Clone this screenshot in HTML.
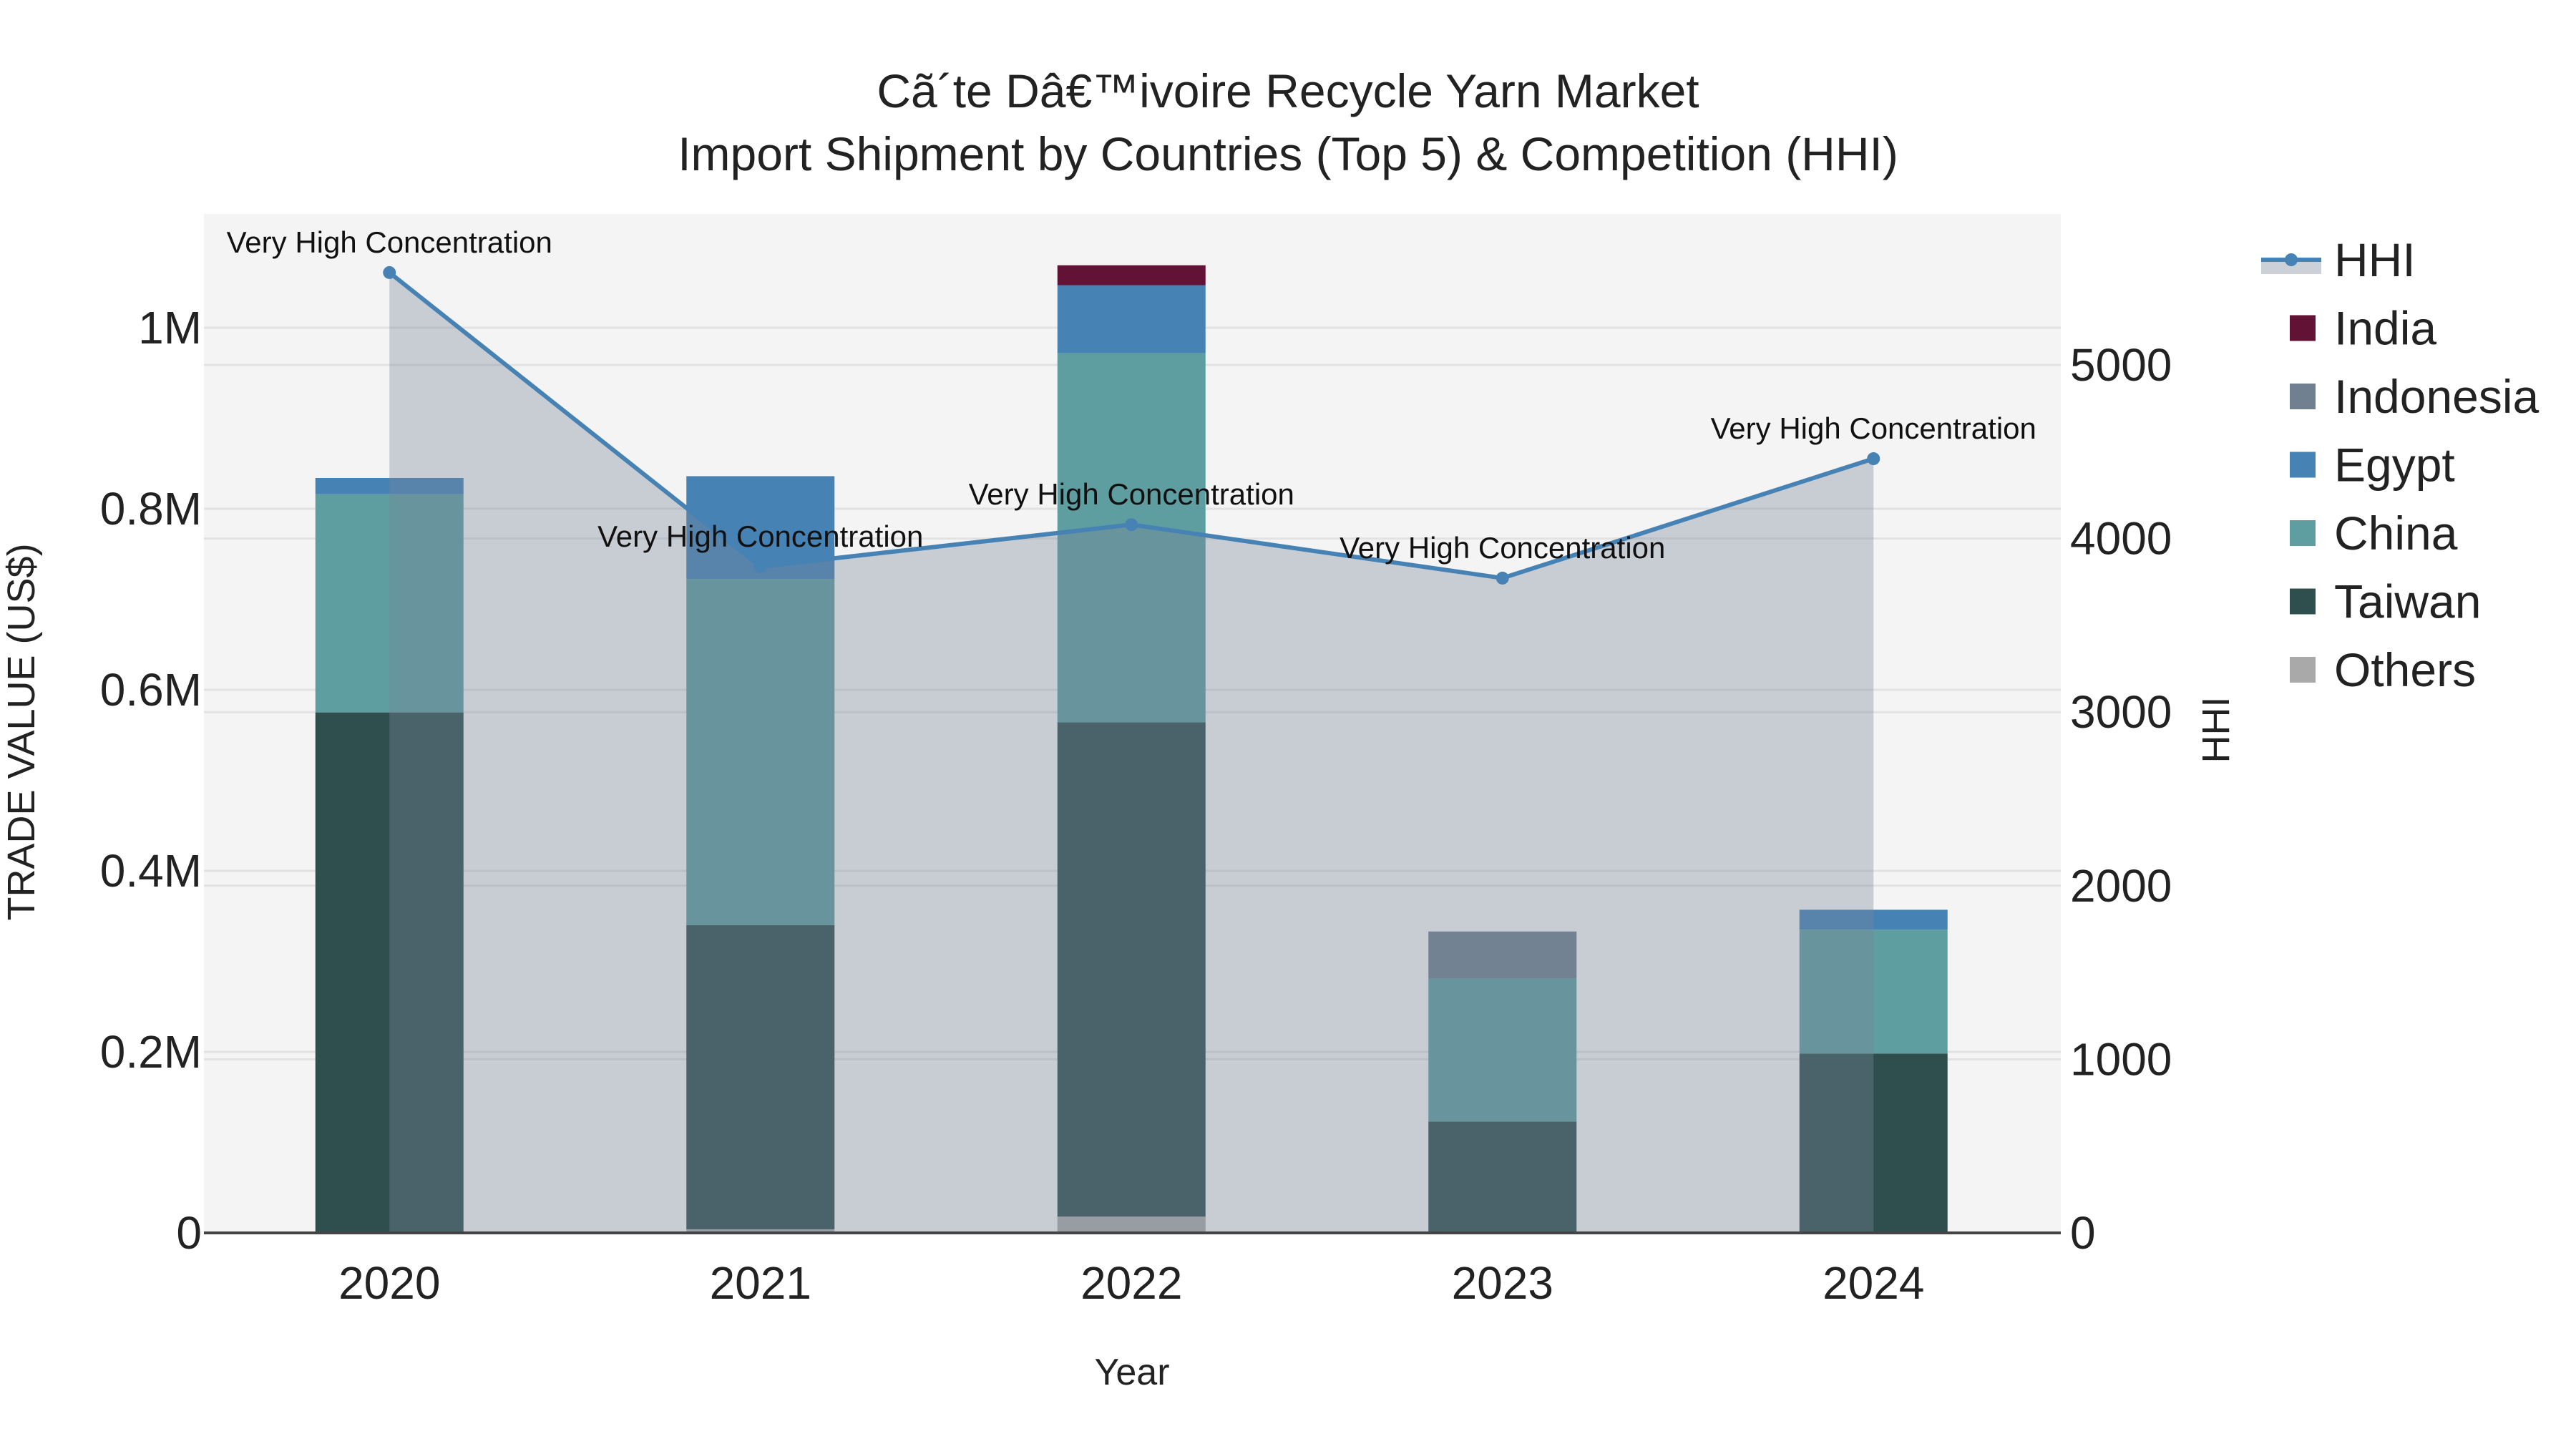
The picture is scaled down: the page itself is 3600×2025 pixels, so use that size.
<!DOCTYPE html>
<html><head><meta charset="utf-8"><style>
html,body{margin:0;padding:0;background:#fff;}
svg{display:block;font-family:"Liberation Sans",sans-serif;}
</style></head><body>
<svg id="chart" width="3600" height="2025" viewBox="0 0 3600 2025" xmlns="http://www.w3.org/2000/svg">
<rect x="285" y="299" width="2595" height="1424" fill="#f4f4f4"/>
<g id="grid"></g>
<g id="bars"></g>
<g id="hhi"></g>
<g id="axes"></g>
<text x="1800" y="150" font-size="66" text-anchor="middle" fill="#222">Cã´te Dâ€™ivoire Recycle Yarn Market</text>
<text x="1800" y="238" font-size="66" text-anchor="middle" fill="#222">Import Shipment by Countries (Top 5) &amp; Competition (HHI)</text>
<text x="1582" y="1935" font-size="52" text-anchor="middle" fill="#222">Year</text>
<text transform="translate(48,1023) rotate(-90)" font-size="54" text-anchor="middle" fill="#222">TRADE VALUE (US$)</text>
<text transform="translate(3115,1020) rotate(-90)" font-size="54" text-anchor="middle" fill="#222">HHI</text>
<g id="legend"></g>
</svg>
<script>
const years = ["2020","2021","2022","2023","2024"];
const seriesNames = ["Others","Taiwan","China","Egypt","Indonesia","India"];
const others = [0, 0.004, 0.018, 0, 0];
const taiwan = [0.575, 0.336, 0.546, 0.123, 0.198];
const china = [0.241, 0.3825, 0.408, 0.158, 0.137];
const egypt = [0.018, 0.1135, 0.075, 0, 0.022];
const indonesia = [0, 0, 0, 0.052, 0];
const india = [0, 0, 0.022, 0, 0];
const hhi = [5532, 3838, 4080, 3772, 4460];
const hhiLabels = ["Very High Concentration","Very High Concentration","Very High Concentration","Very High Concentration","Very High Concentration"];
const leftTicks = [0,0.2,0.4,0.6,0.8,1.0];
const leftTickLabels = ["0","0.2M","0.4M","0.6M","0.8M","1M"];
const rightTicks = [0,1000,2000,3000,4000,5000];
const colors = {Others:"#a9a9a9",Taiwan:"#2f4f4f",China:"#5f9ea0",Egypt:"#4682b4",Indonesia:"#708090",India:"#611235"};
const seriesData = {Others:others,Taiwan:taiwan,China:china,Egypt:egypt,Indonesia:indonesia,India:india};

const NS="http://www.w3.org/2000/svg";
const x0=285, step=518.5, y0=1723;
const xs = i => x0 + step*(i+0.5);
const yL = v => y0 - v*1265;
const yR = v => y0 - v*0.2426;
function mk(tag, attrs, parent){const e=document.createElementNS(NS,tag);for(const k in attrs)e.setAttribute(k,attrs[k]);parent.appendChild(e);return e;}
const grid=document.getElementById('grid'), bars=document.getElementById('bars'), hg=document.getElementById('hhi'), axes=document.getElementById('axes'), lg=document.getElementById('legend');

leftTicks.forEach((t,i)=>{
  if(t>0){const l=mk('line',{x1:285,x2:2880,y1:yL(t),y2:yL(t),stroke:"#e2e2e2","stroke-width":3},grid);
  
  }
  const tx=mk('text',{x:282,y:yL(t)+22,"font-size":64,"text-anchor":"end",fill:"#222"},axes);
  tx.textContent=leftTickLabels[i];
  
  
});
rightTicks.forEach(t=>{
  if(t>0){const l=mk('line',{x1:285,x2:2880,y1:yR(t),y2:yR(t),stroke:"#e2e2e2","stroke-width":3},grid);
  
  }
  const tx=mk('text',{x:2893,y:yR(t)+22,"font-size":64,fill:"#222"},axes);
  tx.textContent=String(t);
  
  
});
years.forEach((y,i)=>{
  let base=0;
  seriesNames.forEach(s=>{
    const v=seriesData[s][i];
    if(v>0){const r=mk('rect',{x:xs(i)-103.5,width:207,y:yL(base+v),height:v*1265,fill:colors[s]},bars);
    
    }
    base+=v;
  });
  const tx=mk('text',{x:xs(i),y:1815,"font-size":64,"text-anchor":"middle",fill:"#222"},axes);
  tx.textContent=y;
  
  
});
const base=mk('line',{x1:285,x2:2880,y1:y0,y2:y0,stroke:"#444","stroke-width":4},axes);



let pts=hhi.map((v,i)=>xs(i)+","+yR(v)).join(" ");
const area=mk('polygon',{points:xs(0)+","+y0+" "+pts+" "+xs(hhi.length-1)+","+y0,fill:"rgb(122,132,152)","fill-opacity":0.36},hg);


const line=mk('polyline',{points:pts,fill:"none",stroke:"#4682b4","stroke-width":6},hg);


hhi.forEach((v,i)=>{
  const c=mk('circle',{cx:xs(i),cy:yR(v),r:9,fill:"#4682b4"},hg);
  
  
  const t=mk('text',{x:xs(i),y:yR(v)-28,"font-size":42,"text-anchor":"middle",fill:"#111"},hg);
  t.textContent=hhiLabels[i];
  
  
});

// legend
const lh=mk('rect',{x:3160,y:363,width:84,height:20,fill:"#ccd1d8"},lg);


const ll=mk('line',{x1:3160,x2:3244,y1:363,y2:363,stroke:"#4682b4","stroke-width":6},lg);


const lc=mk('circle',{cx:3202,cy:363,r:9,fill:"#4682b4"},lg);


const lt=mk('text',{x:3262,y:386,"font-size":66,fill:"#222"},lg);
lt.textContent="HHI";


["India","Indonesia","Egypt","China","Taiwan","Others"].forEach((s,k)=>{
  const cy=363+95.5*(k+1);
  const r=mk('rect',{x:3200,y:cy-18,width:36,height:36,fill:colors[s]},lg);
  
  
  const t=mk('text',{x:3262,y:cy+23,"font-size":66,fill:"#222"},lg);
  t.textContent=s;
  
  
});
</script>
</body></html>
